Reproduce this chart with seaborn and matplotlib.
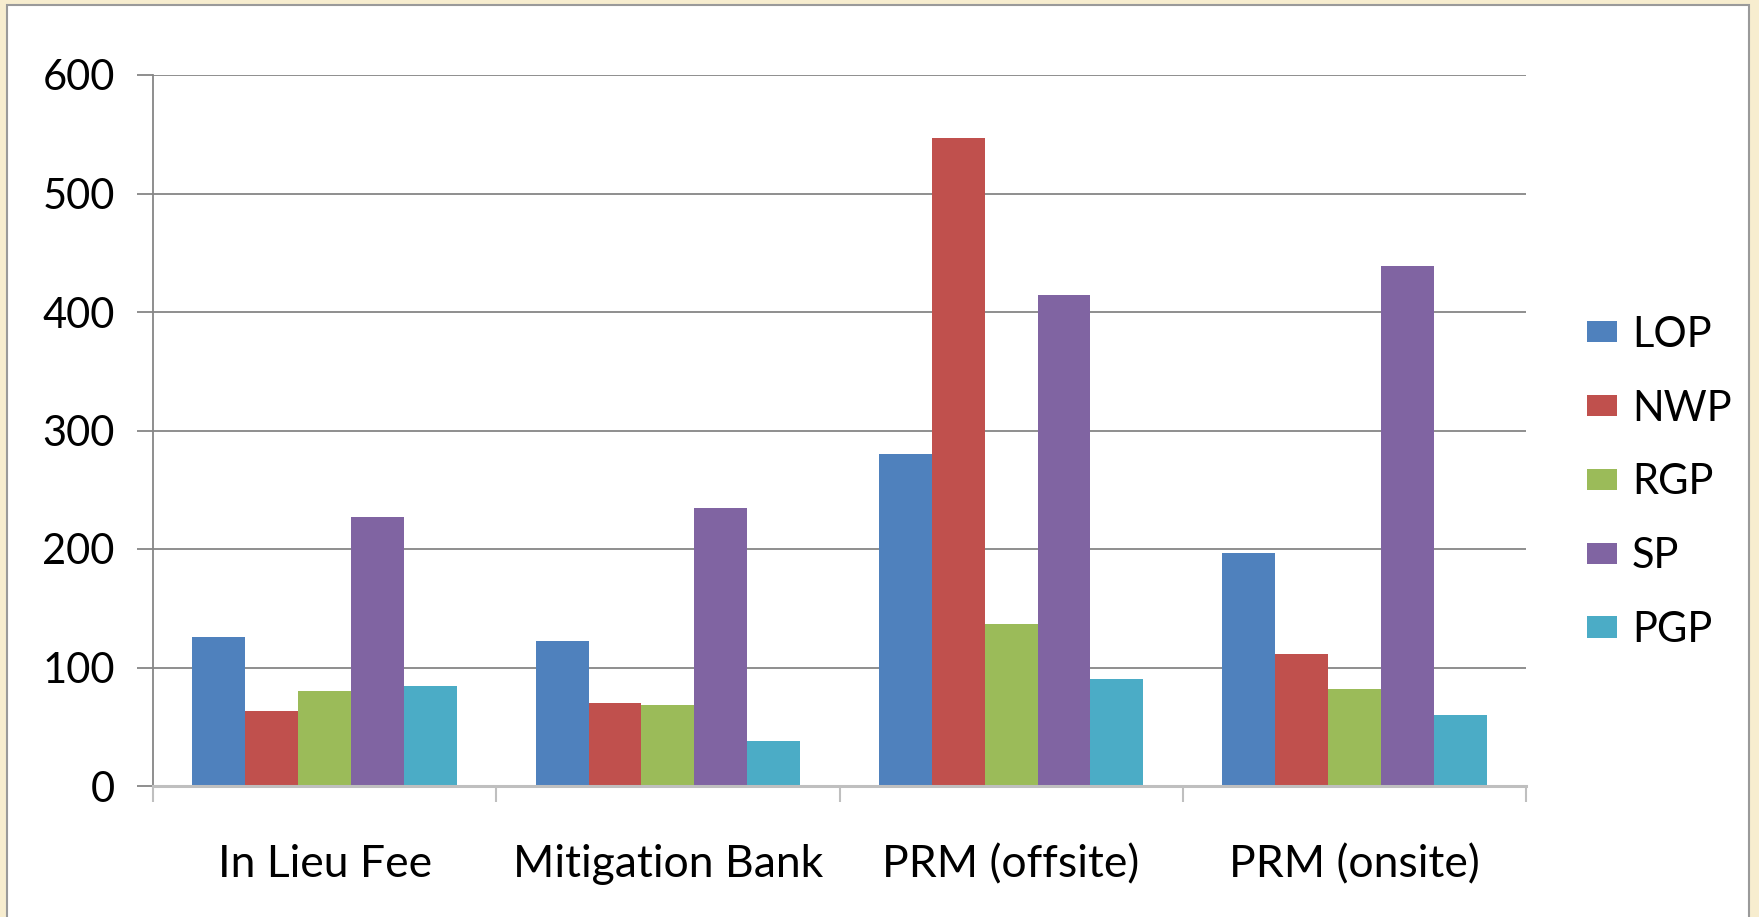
import numpy as np
import pandas as pd
import matplotlib.pyplot as plt
import seaborn as sns
from matplotlib.patches import Rectangle

# data
categories = ['In Lieu Fee', 'Mitigation Bank', 'PRM (offsite)', 'PRM (onsite)']
permits = ['LOP', 'NWP', 'RGP', 'SP', 'PGP']
lop = [126, 122, 280, 197]
nwp = [63, 70, 547, 111]
rgp = [80, 68, 137, 82]
sp = [227, 235, 414, 439]
pgp = [84, 38, 90, 60]
yticks = [0, 100, 200, 300, 400, 500, 600]

colors = ['#4F81BD', '#C0504D', '#9BBB59', '#8064A2', '#4BACC6']

df = pd.DataFrame({
    'category': categories * len(permits),
    'permit': np.repeat(permits, len(categories)),
    'value': lop + nwp + rgp + sp + pgp,
})

sns.set_style('white')
plt.rcParams['font.family'] = ['Lato', 'DejaVu Sans']

fig = plt.figure(figsize=(17.59, 9.17), dpi=100, facecolor='#F7EDCF')

# white slide panel behind everything
bg = fig.add_axes([0, 0, 1, 1], zorder=-5)
bg.set_axis_off()
bg.set_xlim(0, 1)
bg.set_ylim(0, 1)
bg.add_patch(Rectangle((7 / 1759, -0.01), 1742 / 1759, 1 - 5 / 917 + 0.01,
                       facecolor='white', edgecolor='#9A9A9A', linewidth=1.5))

ax = fig.add_axes([153 / 1759, 1 - 786 / 917, 1373 / 1759, 711 / 917])
ax.set_facecolor('none')

sns.barplot(data=df, x='category', y='value', hue='permit', hue_order=permits,
            palette=colors, width=0.77, linewidth=0, saturation=1, ax=ax)

ax.set_ylim(0, 600)
ax.set_xlim(-0.5, 3.5)
ax.set_yticks(yticks)
ax.set_xlabel('')
ax.set_ylabel('')

ax.yaxis.grid(True, color='#868686', linewidth=1.3)
ax.set_axisbelow(True)

for side in ['top', 'right']:
    ax.spines[side].set_visible(False)
ax.spines['left'].set_color('#868686')
ax.spines['left'].set_linewidth(1.3)
ax.spines['bottom'].set_color('#BFBFBF')
ax.spines['bottom'].set_linewidth(2.2)

ax.tick_params(axis='y', which='major', left=True, length=11.5, width=1.3,
               color='#868686', pad=16, labelsize=30, labelcolor='black')
for lbl in ax.get_yticklabels():
    lbl.set_va('center_baseline')
ax.set_xticks(np.arange(-0.5, 4.0, 1.0), minor=True)
ax.tick_params(axis='x', which='minor', bottom=True, length=11.5, width=1.5,
               color='#BFBFBF')
ax.tick_params(axis='x', which='major', length=0, pad=42, labelsize=32,
               labelcolor='black')

handles, labels = ax.get_legend_handles_labels()
ax.get_legend().remove()
leg = fig.legend(handles, labels, loc='center left', bbox_to_anchor=(0.893, 0.474),
                 frameon=False, fontsize=30, handlelength=0.72, handleheight=0.41,
                 handletextpad=0.35, labelspacing=0.86, borderaxespad=0,
                 labelcolor='black')

fig.savefig('out.png', dpi=100, facecolor=fig.get_facecolor())
